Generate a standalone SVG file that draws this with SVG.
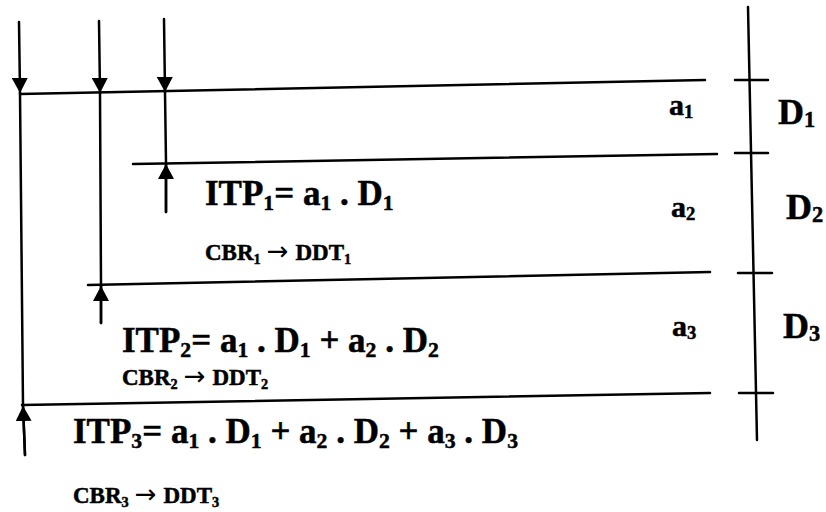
<svg xmlns="http://www.w3.org/2000/svg" width="826" height="512" viewBox="0 0 826 512">
<defs>
<marker id="ah" markerUnits="userSpaceOnUse" markerWidth="16" markerHeight="16" refX="15" refY="8" orient="auto">
<path d="M0,0 L15,8 L0,16 z" fill="#000"/>
</marker>
<style>
.ln{stroke:#000;stroke-width:2.5;fill:none;stroke-linecap:round}
.ar{marker-end:url(#ah)}
text{font-family:"Liberation Serif","Times New Roman",serif;font-weight:bold;fill:#000;stroke:#000;stroke-width:0.5}
.big{font-size:35px}
.cbr{font-size:23px}
.al{font-size:30px}
.dl{font-size:36px}
.s{font-size:0.62em}
.arr{font-family:"DejaVu Sans",sans-serif;font-weight:normal;font-size:26px;stroke-width:0}
</style>
</defs>
<rect width="826" height="512" fill="#fff"/>
<g id="connectors">
<line class="ln" x1="20" y1="94" x2="705" y2="80"/>
<line class="ln" x1="133" y1="164" x2="717" y2="154"/>
<line class="ln" x1="88" y1="285" x2="710" y2="272"/>
<line class="ln" x1="22" y1="405" x2="710" y2="393"/>
<path class="ln ar" d="M19,22 L20,93"/>
<path class="ln" d="M20,93 L23,405 L25,455"/>
<path class="ln ar" d="M25,455 L23,406"/>
<path class="ln ar" d="M99,21 L100,93"/>
<path class="ln" d="M100,93 L101,285 L101,323"/>
<path class="ln ar" d="M101,323 L101,286"/>
<path class="ln ar" d="M164,19 L165,92"/>
<path class="ln" d="M165,92 L166,163 L166,212"/>
<path class="ln ar" d="M166,212 L166,164"/>
<path class="ln" d="M748,7 L757,440"/>
<line class="ln" x1="735" y1="80" x2="768" y2="80"/>
<line class="ln" x1="735" y1="153" x2="768" y2="153"/>
<line class="ln" x1="738" y1="273" x2="772" y2="273"/>
<line class="ln" x1="739" y1="393" x2="773" y2="393"/>
</g>
<g id="labels-right">
<text class="al" x="669" y="115">a<tspan class="s" dy="3">1</tspan></text>
<text class="dl" x="778" y="124">D<tspan class="s" dy="3">1</tspan></text>
<text class="al" x="671" y="217">a<tspan class="s" dy="3">2</tspan></text>
<text class="dl" x="786" y="219">D<tspan class="s" dy="3">2</tspan></text>
<text class="al" x="672" y="336">a<tspan class="s" dy="3">3</tspan></text>
<text class="dl" x="783" y="338">D<tspan class="s" dy="3">3</tspan></text>
</g>
<g id="itp1">
<text class="big" x="205" y="205">ITP<tspan class="s" dy="5">1</tspan><tspan dy="-5">= a</tspan><tspan class="s" dy="5">1</tspan><tspan dy="-5"> . D</tspan><tspan class="s" dy="5">1</tspan></text>
<text class="cbr" x="205" y="260">CBR<tspan class="s" dy="4">1</tspan><tspan class="arr" dy="-4" dx="6">→</tspan><tspan dx="7">DDT</tspan><tspan class="s" dy="4">1</tspan></text>
</g>
<g id="itp2">
<text class="big" x="122" y="352">ITP<tspan class="s" dy="5">2</tspan><tspan dy="-5">= a</tspan><tspan class="s" dy="5">1</tspan><tspan dy="-5"> . D</tspan><tspan class="s" dy="5">1</tspan><tspan dy="-5"> + a</tspan><tspan class="s" dy="5">2</tspan><tspan dy="-5"> . D</tspan><tspan class="s" dy="5">2</tspan></text>
<text class="cbr" x="122" y="385">CBR<tspan class="s" dy="4">2</tspan><tspan class="arr" dy="-4" dx="6">→</tspan><tspan dx="7">DDT</tspan><tspan class="s" dy="4">2</tspan></text>
</g>
<g id="itp3">
<text class="big" x="73" y="443">ITP<tspan class="s" dy="5">3</tspan><tspan dy="-5">= a</tspan><tspan class="s" dy="5">1</tspan><tspan dy="-5"> . D</tspan><tspan class="s" dy="5">1</tspan><tspan dy="-5"> + a</tspan><tspan class="s" dy="5">2</tspan><tspan dy="-5"> . D</tspan><tspan class="s" dy="5">2</tspan><tspan dy="-5"> + a</tspan><tspan class="s" dy="5">3</tspan><tspan dy="-5"> . D</tspan><tspan class="s" dy="5">3</tspan></text>
<text class="cbr" x="73" y="503">CBR<tspan class="s" dy="4">3</tspan><tspan class="arr" dy="-4" dx="6">→</tspan><tspan dx="7">DDT</tspan><tspan class="s" dy="4">3</tspan></text>
</g>
</svg>
